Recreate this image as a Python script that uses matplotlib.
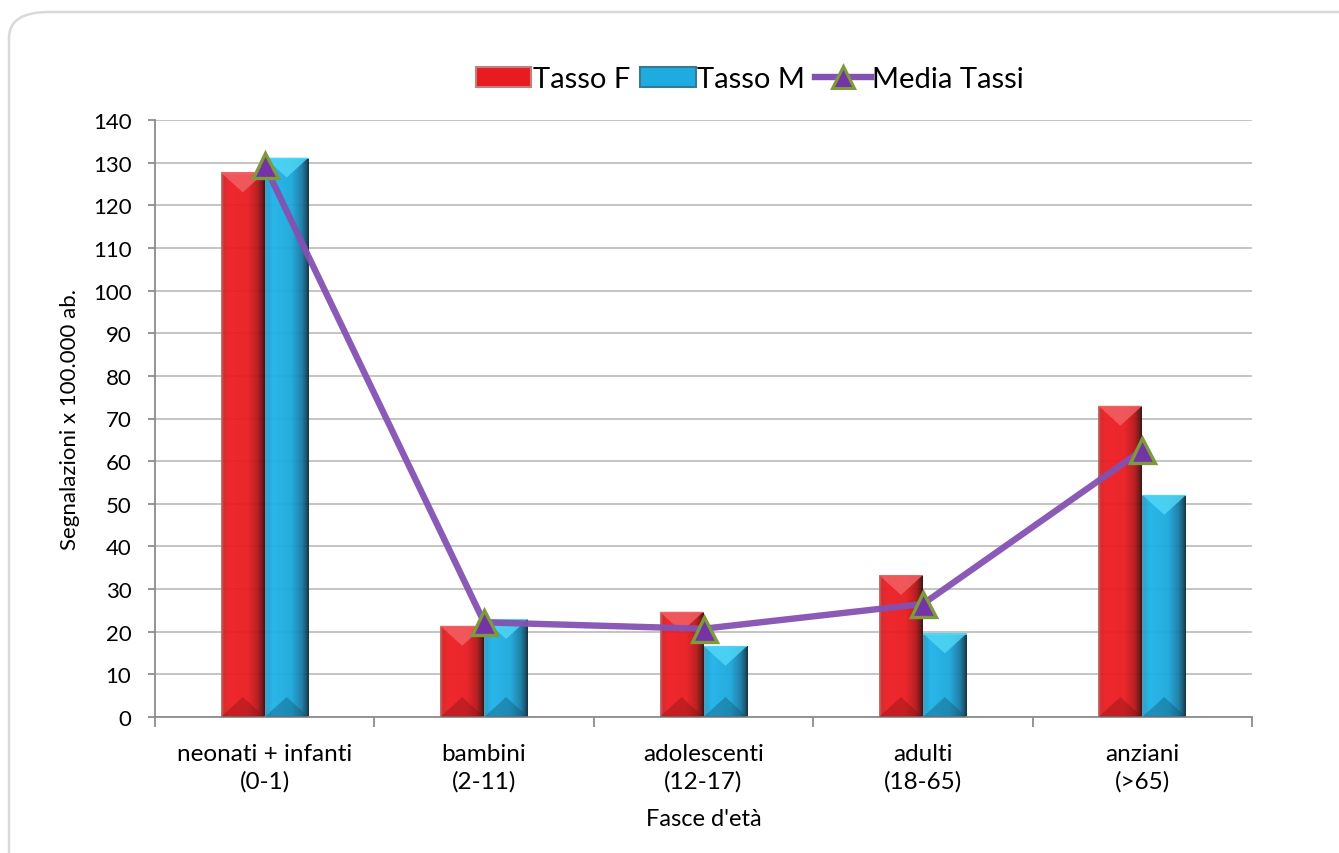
import numpy as np
import matplotlib
matplotlib.use("Agg")
import matplotlib.pyplot as plt
from matplotlib.colors import LinearSegmentedColormap
from matplotlib.patches import Polygon, FancyBboxPatch, Patch
from matplotlib.lines import Line2D

# --- data -------------------------------------------------------------
categories = ["neonati + infanti\n(0-1)", "bambini\n(2-11)", "adolescenti\n(12-17)",
              "adulti\n(18-65)", "anziani\n(>65)"]
tasso_f = [127.7, 21.4, 24.7, 33.3, 73.0]
tasso_m = [131.2, 23.0, 16.7, 19.6, 52.1]
media_tassi = [129.4, 22.2, 20.7, 26.5, 62.6]
y_ticks = list(range(0, 141, 10))

plt.rcParams['font.family'] = ['Lato', 'DejaVu Sans']

W, H, DPI = 1339, 854, 100
fig = plt.figure(figsize=(W / DPI, H / DPI), dpi=DPI)

# rounded chart-area frame
frame = FancyBboxPatch((9 / W, -0.2), 1.2, 1 - 13 / H + 0.2,
                       boxstyle="round,pad=0,rounding_size=0.03",
                       transform=fig.transFigure, facecolor='none',
                       edgecolor='#d9d9d9', linewidth=1.8, zorder=-1)
fig.patches.append(frame)

ax_l, ax_r, ax_t, ax_b = 155, 1252, 121, 718
ax = fig.add_axes([ax_l / W, 1 - ax_b / H, (ax_r - ax_l) / W, (ax_b - ax_t) / H])
ax.set_facecolor('none')

xlim = (-0.5, 4.5)
ylim = (0, 140)
ax.set_xlim(*xlim)
ax.set_ylim(*ylim)
px_y = (ylim[1] - ylim[0]) / (ax_b - ax_t)   # data units per pixel

x = np.arange(len(categories))
bw = 0.2

red_cmap = LinearSegmentedColormap.from_list(
    'red3d', [(0, '#b87878'), (0.06, '#d42020'), (0.18, '#ee1c22'), (0.6, '#ea1b20'),
              (0.84, '#b51417'), (0.94, '#6a1010'), (1.0, '#2a0808')])
cyan_cmap = LinearSegmentedColormap.from_list(
    'cyan3d', [(0, '#5a93ab'), (0.06, '#1aa2d6'), (0.18, '#1eb2e8'), (0.6, '#1aa8dc'),
               (0.84, '#1679a3'), (0.94, '#104e6a'), (1.0, '#0a2432')])
grad = np.linspace(0, 1, 256).reshape(1, -1)


def bevel_bar(xc, h, cmap, top_col, bot_col):
    left = xc - bw / 2
    bar = ax.bar(xc, h, width=bw, color='none', edgecolor='none', zorder=2)[0]
    im = ax.imshow(grad, cmap=cmap, aspect='auto', extent=(left, left + bw, 0, h),
                   zorder=2, alpha=0.95, interpolation='bicubic')
    im.set_clip_path(bar)
    depth = 20 * px_y
    # lighter bevel on the top face
    ax.add_patch(Polygon([(left, h), (left + bw, h), (xc, h - depth)], closed=True,
                         facecolor=top_col, edgecolor='none', alpha=0.8, zorder=3))
    ax.add_patch(Polygon([(left, h - 1.2 * px_y), (left + bw, h - 1.2 * px_y),
                          (left + bw, h), (left, h)], closed=True,
                         facecolor=top_col, edgecolor='none', alpha=0.9, zorder=3))
    # darker bevel at the base
    ax.add_patch(Polygon([(left, 0), (left + bw, 0), (xc, depth)], closed=True,
                         facecolor=bot_col, edgecolor='none', alpha=0.35, zorder=3))
    ax.set_xlim(*xlim)
    ax.set_ylim(*ylim)


for i in range(len(categories)):
    bevel_bar(x[i] - bw / 2, tasso_f[i], red_cmap, '#f26466', '#7a1010')
    bevel_bar(x[i] + bw / 2, tasso_m[i], cyan_cmap, '#52d8f6', '#0f4a66')

ax.plot(x, media_tassi, color='#8451b2', linewidth=4.6, zorder=4, alpha=0.95,
        solid_capstyle='round')
ax.plot(x, media_tassi, linestyle='none', marker='^', markersize=18,
        markerfacecolor='#7434a6', markeredgecolor='#7d9a3c', markeredgewidth=2.4,
        zorder=5)

# grid and axes
ax.set_yticks(y_ticks)
ax.yaxis.grid(True, color='#c4c4c4', linewidth=1.4, zorder=1)
ax.set_axisbelow(True)
for s in ['top', 'right']:
    ax.spines[s].set_visible(False)
for s in ['left', 'bottom']:
    ax.spines[s].set_color('#8c8c8c')
    ax.spines[s].set_linewidth(1.3)
ax.tick_params(axis='y', length=5, width=1.3, color='#8c8c8c', labelsize=16,
               pad=12, labelcolor='black')
ax.set_xticks(x)
ax.set_xticklabels(categories, fontsize=17.5, linespacing=1.3)
ax.tick_params(axis='x', which='major', length=0, pad=19)
ax.set_xticks(np.arange(-0.5, 4.6, 1), minor=True)
ax.tick_params(axis='x', which='minor', length=7, width=1.3, color='#8c8c8c')

ax.set_ylabel("Segnalazioni x 100.000 ab.", fontsize=16, labelpad=9)
ax.set_xlabel("Fasce d'età", fontsize=17, labelpad=12)

handles = [Patch(facecolor='#e81c20', edgecolor='#c08080', linewidth=1.5),
           Patch(facecolor='#1eace0', edgecolor='#3a7890', linewidth=1.5),
           Line2D([0], [0], color='#8451b2', linewidth=4.6, marker='^', markersize=16,
                  markerfacecolor='#7434a6', markeredgecolor='#7d9a3c',
                  markeredgewidth=2.2)]
fig.legend(handles, ["Tasso F", "Tasso M", "Media Tassi"], loc='center',
           bbox_to_anchor=(750 / W, 1 - 80 / H), ncol=3, frameon=False, fontsize=21,
           handlelength=1.9, handletextpad=0.05, columnspacing=0.35, handleheight=0.7)

fig.savefig('out.png', dpi=DPI)
